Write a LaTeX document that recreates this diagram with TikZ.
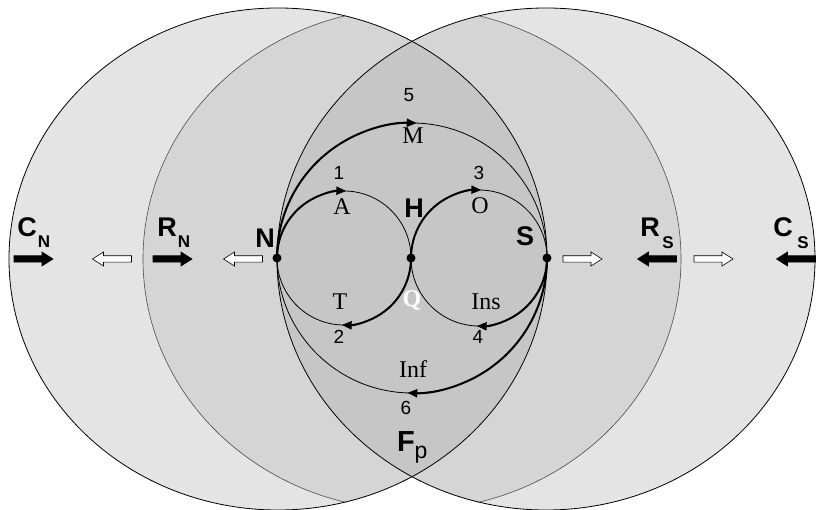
\documentclass[tikz,border=0pt]{standalone}
\usepackage{fontspec}
\setmainfont{Liberation Serif}
\setsansfont{Liberation Sans}
\usetikzlibrary{arrows.meta}
\definecolor{lightg}{HTML}{E4E4E4}
\definecolor{midg}{HTML}{D5D5D5}
\definecolor{darkg}{HTML}{C6C6C6}
\begin{document}
\begin{tikzpicture}[x=1pt,y=1pt,
  thinline/.style={line width=0.8pt},
  rimline/.style={line width=0.6pt, draw=black!70},
  boldpath/.style={line width=2pt, -{Triangle[length=10pt,width=8pt]}},
  digit/.style={font=\sffamily\fontsize{19}{19}\selectfont, inner sep=0pt},
  serif/.style={font=\rmfamily\fontsize{24}{24}\selectfont, inner sep=0pt},
  bigbold/.style={font=\sffamily\bfseries\fontsize{27}{27}\selectfont, inner sep=0pt},
  subbold/.style={font=\sffamily\bfseries\fontsize{17}{17}\selectfont, inner sep=0pt},
  dot/.style={circle, fill=black, inner sep=0pt, minimum size=9pt},
  fatarrow/.pic={\draw[line width=0.6pt, pic actions]
     (-19.5,-3.2) -- (8.5,-3.2) -- (8.5,-7) -- (19.5,0) -- (8.5,7) -- (8.5,3.2) -- (-19.5,3.2) -- cycle;}
]
\useasboundingbox (0,0) rectangle (816,-510);
% background fills
\fill[lightg] (278,-259) ellipse [x radius=269, y radius=251];
\fill[lightg] (546,-259) ellipse [x radius=269, y radius=251];
\begin{scope}
  \clip (412,-259) ellipse [x radius=269, y radius=251];
  \fill[midg] (278,-259) ellipse [x radius=269, y radius=251]
              (546,-259) ellipse [x radius=269, y radius=251];
\end{scope}
\begin{scope}
  \clip (278,-259) ellipse [x radius=269, y radius=251];
  \clip (546,-259) ellipse [x radius=269, y radius=251];
  \fill[darkg] (412,-259) ellipse [x radius=269, y radius=251];
\end{scope}
\begin{scope}
  \clip (278,-259) ellipse [x radius=269, y radius=251]
        (546,-259) ellipse [x radius=269, y radius=251];
  \draw[rimline] (412,-259) ellipse [x radius=269, y radius=251];
\end{scope}
\draw[thinline] (278,-259) ellipse [x radius=269, y radius=251];
\draw[thinline] (546,-259) ellipse [x radius=269, y radius=251];

% inner structure
\coordinate (N) at (277,-258);
\coordinate (H) at (411,-258);
\coordinate (S) at (547,-258);
\draw[thinline] (344,-258) circle [radius=67];
\draw[thinline] (479,-258) circle [radius=68];
\draw[thinline] (412,-258) circle [radius=135];

\draw[boldpath] (N) arc [start angle=180, end angle=88, radius=67];
\draw[boldpath] (H) arc [start angle=180, end angle=88, radius=68];
\draw[boldpath] (N) arc [start angle=180, end angle=88, radius=135];
\draw[boldpath] (H) arc [start angle=0, end angle=-92, radius=67];
\draw[boldpath] (S) arc [start angle=0, end angle=-92, radius=68];
\draw[boldpath] (S) arc [start angle=0, end angle=-92, radius=135];

\node[dot] (Nd) at (N) {};
\node[dot] (Hd) at (H) {};
\node[dot] (Sd) at (S) {};

% labels
\node[digit] (l5) at (409,-95) {5};
\node[serif] (lM) at (413,-136) {M};
\node[digit] (l1) at (339,-173) {1};
\node[serif] (lA) at (342,-207) {A};
\node[digit] (l3) at (479,-173) {3};
\node[serif] (lO) at (480,-206) {O};
\node[bigbold] (lH) at (414,-208) {H};
\node[bigbold] (lN) at (265,-238) {N};
\node[bigbold] (lS) at (525,-236) {S};
\node[serif] (lT) at (340,-302) {T};
\node[digit] (l2) at (339,-337) {2};
\node[font=\rmfamily\bfseries\fontsize{24}{24}\selectfont, text=white, inner sep=0pt] (lQ) at (412,-301) {Q};
\node[serif] (lIns) at (486,-302) {Ins};
\node[digit] (l4) at (478,-337) {4};
\node[serif] (lInf) at (413,-369) {Inf};
\node[digit] (l6) at (406,-408) {6};
\node[font=\sffamily\bfseries\fontsize{29}{29}\selectfont, inner sep=0pt] (lF) at (406,-442) {F};
\node[font=\sffamily\fontsize{23}{23}\selectfont, inner sep=0pt] (lp) at (421,-455) {p};

\node[bigbold] (lCN) at (27,-227) {C};
\node[subbold] (lCNs) at (44,-242) {N};
\node[bigbold] (lRN) at (167,-227) {R};
\node[subbold] (lRNs) at (184,-242) {N};
\node[bigbold] (lRS) at (650,-227) {R};
\node[subbold] (lRSs) at (668,-243) {S};
\node[bigbold] (lCS) at (783,-227) {C};
\node[subbold] (lCSs) at (803,-243) {S};

% fat arrows
\pic[fill=black] (a1) at (33.5,-259) {fatarrow};
\pic[fill=white, rotate=180] (a2) at (112,-259) {fatarrow};
\pic[fill=black] (a3) at (172.5,-259) {fatarrow};
\pic[fill=white, rotate=180] (a4) at (243,-259) {fatarrow};
\pic[fill=white] (a5) at (582.5,-259) {fatarrow};
\pic[fill=black, rotate=180] (a6) at (657,-259) {fatarrow};
\pic[fill=white] (a7) at (713.5,-259) {fatarrow};
\pic[fill=black, rotate=180] (a8) at (796,-259) {fatarrow};
\end{tikzpicture}
\end{document}
